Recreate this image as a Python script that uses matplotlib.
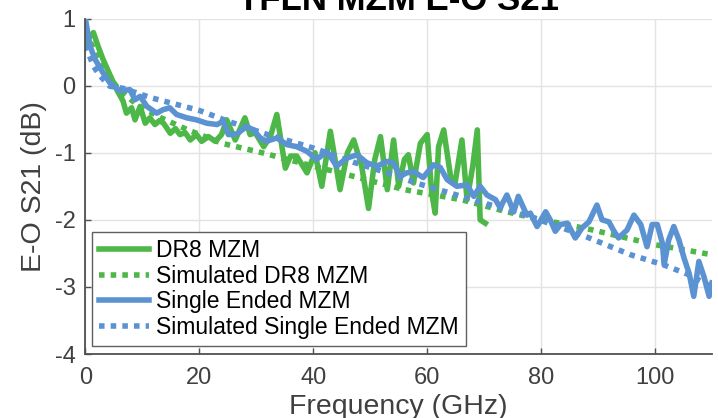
import matplotlib
matplotlib.use("Agg")
import matplotlib.pyplot as plt

plt.rcParams["font.family"] = ["Liberation Sans", "DejaVu Sans"]
plt.rcParams["axes.unicode_minus"] = False

# measured DR8 MZM
dr8_f = [0.0, 0.7, 1.4, 2.2, 3.1, 4.3, 5.5, 6.6, 7.2, 8.1, 8.7, 9.6, 10.5, 11.3,
         12.2, 13.0, 13.7, 14.9, 15.8, 16.6, 17.5, 18.4, 19.5, 20.4, 21.6, 22.8,
         23.9, 24.8, 26.3, 28.0, 28.9, 29.8, 31.3, 32.5, 33.6, 35.1, 36.0, 37.1,
         38.9, 40.3, 41.5, 43.0, 44.7, 46.0, 47.1, 48.5, 49.7, 50.8, 51.8, 53.0,
         54.1, 55.0, 56.0, 56.7, 57.6, 58.8, 60.0, 60.8, 61.4, 62.0, 62.9, 64.1,
         64.9, 66.1, 67.0, 68.0, 68.8, 69.3, 70.2]
dr8_s21 = [0.64, 0.72, 0.79, 0.59, 0.39, 0.16, -0.06, -0.23, -0.41, -0.33, -0.51,
           -0.31, -0.56, -0.48, -0.58, -0.52, -0.56, -0.71, -0.64, -0.73, -0.70,
           -0.81, -0.73, -0.83, -0.76, -0.83, -0.73, -0.51, -0.81, -0.48, -0.73,
           -0.70, -0.91, -0.75, -0.43, -1.23, -1.05, -1.05, -1.30, -1.00, -1.50,
           -0.68, -1.55, -1.00, -0.81, -1.20, -1.83, -1.10, -0.76, -1.55, -0.81,
           -1.50, -1.10, -1.03, -1.45, -0.86, -0.73, -1.60, -1.90, -0.91, -0.66,
           -1.35, -1.45, -0.81, -1.70, -1.20, -0.66, -2.00, -2.05]

# simulated DR8 MZM
sim_dr8_f = [0, 2, 4, 6, 9, 13, 18, 24, 31, 40, 47, 56, 66, 74, 78, 89, 100, 110]
sim_dr8_s21 = [0.80, 0.45, 0.15, -0.07, -0.28, -0.47, -0.66, -0.86, -1.00, -1.20,
               -1.35, -1.55, -1.70, -1.88, -1.96, -2.15, -2.37, -2.52]

# measured single ended MZM
se_f = [0.0, 0.8, 1.7, 3.1, 4.3, 6.1, 7.8, 8.7, 9.6, 10.8, 12.5, 13.6, 14.8, 16.0,
        17.8, 19.5, 21.3, 23.1, 24.2, 25.1, 26.6, 28.3, 29.5, 30.7, 31.8, 33.6,
        35.4, 37.1, 38.9, 40.6, 42.4, 44.1, 45.9, 47.7, 49.4, 51.2, 52.9, 54.0,
        55.3, 56.4, 57.6, 59.3, 61.1, 62.3, 63.5, 65.2, 67.0, 68.2, 69.3, 70.5,
        72.0, 72.8, 74.0, 75.2, 76.0, 77.5, 78.1, 79.3, 80.8, 81.6, 82.5, 83.4,
        84.6, 86.0, 87.2, 88.4, 89.8, 90.7, 91.9, 92.8, 93.6, 95.1, 96.3, 97.5,
        98.6, 99.5, 100.4, 101.3, 101.6, 102.4, 103.3, 104.2, 105.1, 106.0, 106.8,
        107.7, 108.6, 109.5, 110.0]
se_s21 = [0.99, 0.59, 0.39, 0.19, 0.04, -0.08, -0.06, -0.21, -0.16, -0.31, -0.41,
          -0.36, -0.33, -0.43, -0.48, -0.51, -0.56, -0.58, -0.53, -0.73, -0.72,
          -0.61, -0.66, -0.78, -0.83, -0.78, -0.88, -0.91, -0.98, -1.10, -0.98,
          -1.20, -1.08, -1.03, -1.15, -1.20, -1.13, -1.15, -1.35, -1.30, -1.28,
          -1.37, -1.18, -1.22, -1.40, -1.50, -1.48, -1.65, -1.50, -1.63, -1.70,
          -1.82, -1.63, -1.88, -1.65, -1.93, -1.90, -2.10, -1.88, -2.00, -2.17,
          -2.07, -2.05, -2.27, -2.12, -2.03, -1.78, -2.00, -2.03, -2.17, -2.27,
          -2.15, -1.93, -2.07, -2.40, -2.07, -2.07, -2.35, -2.67, -2.30, -2.10,
          -2.30, -2.57, -2.80, -3.14, -2.62, -2.85, -3.14, -2.94]

# simulated single ended MZM
sim_se_f = [0, 1.4, 2.5, 4.3, 6.6, 11.5, 20, 25, 32, 40, 47, 53, 58, 62, 70, 78,
            87, 95.7, 101.5, 106, 110]
sim_se_s21 = [0.60, 0.29, 0.15, -0.01, -0.04, -0.18, -0.37, -0.53, -0.73, -0.93,
              -1.14, -1.30, -1.45, -1.55, -1.75, -1.95, -2.22, -2.52, -2.67, -2.82,
              -3.00]

GREEN = "#4db748"
BLUE = "#5b93d2"

fig = plt.figure(figsize=(7.18, 4.18), dpi=100)
ax = fig.add_axes([0.119, 0.153, 0.8726, 0.8027])

dot = (0, (1, 1.1))
ax.plot(dr8_f, dr8_s21, color=GREEN, lw=4, label="DR8 MZM")
ax.plot(sim_dr8_f, sim_dr8_s21, color=GREEN, lw=4, ls=dot,
        dash_capstyle="butt", label="Simulated DR8 MZM")
ax.plot(se_f, se_s21, color=BLUE, lw=4, label="Single Ended MZM")
ax.plot(sim_se_f, sim_se_s21, color=BLUE, lw=4, ls=dot,
        dash_capstyle="butt", label="Simulated Single Ended MZM")

ax.set_xlim(0, 110)
ax.set_ylim(-4, 1)
ax.set_xticks([0, 20, 40, 60, 80, 100])
ax.set_yticks([-4, -3, -2, -1, 0, 1])
ax.grid(True, color="#e3e3e3", lw=1)
ax.set_axisbelow(True)
for s in ("top", "right"):
    ax.spines[s].set_visible(False)
for s in ("left", "bottom"):
    ax.spines[s].set_color("#505050")
    ax.spines[s].set_linewidth(1.3)
ax.tick_params(direction="in", length=4, width=1, colors="#505050",
               labelsize=17, labelcolor="#404040")
ax.tick_params(axis="x", pad=9)
ax.tick_params(axis="y", pad=7)

ax.set_xlabel("Frequency (GHz)", fontsize=20.5, color="#404040", labelpad=4)
ax.set_ylabel("E-O S21 (dB)", fontsize=20.5, color="#404040", labelpad=6)
ax.set_title("TFLN MZM E-O S21", fontsize=25, fontweight="bold", pad=6)

leg = ax.legend(loc="upper left", bbox_to_anchor=(0.0104, 0.364), borderaxespad=0,
                fontsize=16.5, handlelength=2.2, handletextpad=0.3,
                labelspacing=0.12, borderpad=0.3, fancybox=False, framealpha=1)
leg.get_frame().set_edgecolor("#606060")
leg.get_frame().set_linewidth(1)

fig.savefig("out.png", dpi=100)
